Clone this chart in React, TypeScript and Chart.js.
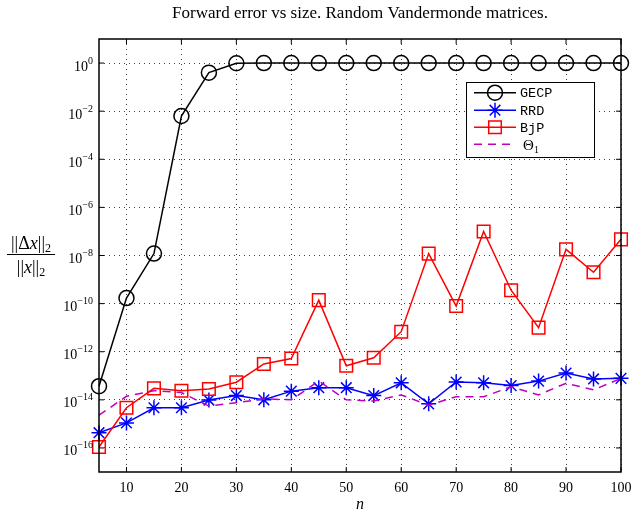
import React, { useEffect, useRef } from 'react';
import { Chart, registerables } from 'chart.js';

Chart.register(...registerables);

// ---------- data ----------
const nValues = [5, 10, 15, 20, 25, 30, 35, 40, 45, 50, 55, 60, 65, 70, 75, 80, 85, 90, 95, 100];
const gecp = [3.7e-14, 1.7e-10, 1.2e-8, 6.3e-3, 0.4, 0.98, 1, 1, 1, 1, 1, 1, 1, 1, 1, 1, 1, 1, 1, 1];
const rrd = [4.3e-16, 1.1e-15, 4.7e-15, 4.7e-15, 9.8e-15, 1.5e-14, 1.0e-14, 2.3e-14, 3.2e-14, 3.2e-14, 1.5e-14, 5.1e-14, 6.8e-15, 5.5e-14, 5.1e-14, 3.9e-14, 6.0e-14, 1.3e-13, 7.4e-14, 7.8e-14];
const bjp = [1.1e-16, 4.7e-15, 3.0e-14, 2.4e-14, 2.8e-14, 5.4e-14, 3.1e-13, 5.2e-13, 1.4e-10, 2.6e-13, 5.6e-13, 6.8e-12, 1.2e-8, 7.9e-11, 1.0e-7, 3.6e-10, 1.0e-11, 1.8e-8, 2.0e-9, 4.7e-8];
const theta1 = [2.3e-15, 1.4e-14, 2.4e-14, 2.0e-14, 5.5e-15, 7.6e-15, 1.1e-14, 1.0e-14, 6.0e-14, 1.0e-14, 8.9e-15, 1.6e-14, 6.0e-15, 1.35e-14, 1.35e-14, 3.5e-14, 1.6e-14, 4.9e-14, 2.6e-14, 7.8e-14];

const seriesNames = ['GECP', 'RRD', 'BjP', 'Θ'];
const xTickValues = [10, 20, 30, 40, 50, 60, 70, 80, 90, 100];
const yTickExponents = [-16, -14, -12, -10, -8, -6, -4, -2, 0];
const titleText = 'Forward error vs size. Random Vandermonde matrices.';
const xAxisLabel = 'n';

// ---------- styles ----------
const SERIF = '"Liberation Serif", "Times New Roman", serif';
const MONO = '"Liberation Mono", "DejaVu Sans Mono", monospace';
const BLACK = '#000000';
const BLUE = '#0000ff';
const RED = '#ff0000';
const MAGENTA = '#bf00bf';

type Part = { t: string; font: string; dy?: number };
function drawParts(ctx: CanvasRenderingContext2D, parts: Part[], x0: number, y: number, align: 'center' | 'right' = 'center') {
  let total = 0;
  parts.forEach((p) => { ctx.font = p.font; total += ctx.measureText(p.t).width; });
  let x = align === 'center' ? x0 - total / 2 : x0 - total;
  ctx.textAlign = 'left';
  ctx.textBaseline = 'alphabetic';
  parts.forEach((p) => {
    ctx.font = p.font;
    ctx.fillText(p.t, x, y + (p.dy || 0));
    x += ctx.measureText(p.t).width;
  });
  return total;
}

function drawMarker(ctx: CanvasRenderingContext2D, kind: string, x: number, y: number) {
  ctx.beginPath();
  if (kind === 'circle') {
    ctx.arc(x, y, 7.5, 0, Math.PI * 2);
  } else if (kind === 'rect') {
    ctx.rect(x - 6.3, y - 6.3, 12.6, 12.6);
  } else if (kind === 'star') {
    const r = 7.5;
    for (let k = 0; k < 4; k++) {
      const a = (k * Math.PI) / 4;
      ctx.moveTo(x - r * Math.cos(a), y - r * Math.sin(a));
      ctx.lineTo(x + r * Math.cos(a), y + r * Math.sin(a));
    }
  }
  ctx.stroke();
}

const decorPlugin = {
  id: 'decor',
  afterDraw(chart: any) {
    const { ctx, chartArea: a, scales } = chart;
    const xs = scales.x;
    const ys = scales.y;
    ctx.save();
    ctx.setLineDash([]);
    // axes box
    ctx.strokeStyle = BLACK;
    ctx.lineWidth = 1.5;
    ctx.strokeRect(a.left, a.top, a.right - a.left, a.bottom - a.top);
    // inward ticks
    ctx.lineWidth = 1;
    ctx.beginPath();
    xs.ticks.forEach((t: any) => {
      const p = xs.getPixelForValue(t.value);
      ctx.moveTo(p, a.bottom); ctx.lineTo(p, a.bottom - 5);
      ctx.moveTo(p, a.top); ctx.lineTo(p, a.top + 5);
    });
    ys.ticks.forEach((t: any) => {
      const p = ys.getPixelForValue(t.value);
      ctx.moveTo(a.left, p); ctx.lineTo(a.left + 5, p);
      ctx.moveTo(a.right, p); ctx.lineTo(a.right - 5, p);
    });
    ctx.stroke();

    ctx.fillStyle = BLACK;
    // y tick labels: 10 with raised exponent
    ys.ticks.forEach((t: any) => {
      const p = ys.getPixelForValue(t.value);
      const e = Math.round(Math.log10(t.value));
      drawParts(ctx, [
        { t: '10', font: `14px ${SERIF}` },
        { t: e < 0 ? '−' + String(-e) : String(e), font: `10px ${SERIF}`, dy: -7 },
      ], a.left - 6, p + 7.5, 'right');
    });

    // title
    ctx.font = `17px ${SERIF}`;
    ctx.textAlign = 'center';
    ctx.textBaseline = 'middle';
    ctx.fillText(titleText, (a.left + a.right) / 2, 14);
    // x label
    ctx.font = `italic 16px ${SERIF}`;
    ctx.fillText(xAxisLabel, (a.left + a.right) / 2, 505);

    // y label as fraction
    const f = `18px ${SERIF}`;
    const fi = `italic 18px ${SERIF}`;
    const fs = `12px ${SERIF}`;
    const cx = 31;
    drawParts(ctx, [
      { t: '||Δ', font: f }, { t: 'x', font: fi }, { t: '||', font: f }, { t: '2', font: fs, dy: 3 },
    ], cx, 249);
    drawParts(ctx, [
      { t: '||', font: f }, { t: 'x', font: fi }, { t: '||', font: f }, { t: '2', font: fs, dy: 3 },
    ], cx, 273);
    ctx.lineWidth = 1;
    ctx.beginPath();
    ctx.moveTo(7, 254.5); ctx.lineTo(55, 254.5);
    ctx.stroke();

    // legend
    const lx = 466, ly = 82, lw = 128, lh = 75;
    ctx.fillStyle = '#ffffff';
    ctx.fillRect(lx, ly, lw, lh);
    ctx.strokeStyle = BLACK;
    ctx.lineWidth = 1;
    ctx.strokeRect(lx + 0.5, ly + 0.5, lw, lh);
    const rows = [92.7, 110.2, 127.3, 144.2];
    const colors = [BLACK, BLUE, RED, MAGENTA];
    const kinds = ['circle', 'star', 'rect', 'none'];
    rows.forEach((ry, i) => {
      ctx.strokeStyle = colors[i];
      ctx.lineWidth = 1.5;
      if (i === 3) ctx.setLineDash([8, 6]); else ctx.setLineDash([]);
      ctx.beginPath();
      ctx.moveTo(474, ry); ctx.lineTo(516, ry);
      ctx.stroke();
      ctx.setLineDash([]);
      if (kinds[i] !== 'none') drawMarker(ctx, kinds[i], 495, ry);
      ctx.fillStyle = BLACK;
      if (i < 3) {
        ctx.font = `13.5px ${MONO}`;
        ctx.textAlign = 'left';
        ctx.textBaseline = 'middle';
        ctx.fillText(seriesNames[i], 520, ry + 1);
      } else {
        drawParts(ctx, [{ t: seriesNames[i], font: `15px ${SERIF}` }, { t: '1', font: `10px ${SERIF}`, dy: 3 }], 531, ry + 6);
      }
    });
    ctx.restore();
  },
};

const toPoints = (arr: number[]) => nValues.map((n, i) => ({ x: n, y: arr[i] }));

export default function App() {
  const ref = useRef<HTMLCanvasElement | null>(null);
  useEffect(() => {
    if (!ref.current) return;
    const chart = new Chart(ref.current, {
      type: 'line',
      data: {
        datasets: [
          {
            label: seriesNames[0], data: toPoints(gecp), borderColor: BLACK, borderWidth: 1.5,
            pointStyle: 'circle', pointRadius: 7.5, pointBorderWidth: 1.5, pointBorderColor: BLACK,
            pointBackgroundColor: 'rgba(0,0,0,0)', fill: false, tension: 0, clip: false as any, order: 4,
          },
          {
            label: seriesNames[1], data: toPoints(rrd), borderColor: BLUE, borderWidth: 1.5,
            pointStyle: 'star', pointRadius: 7.5, pointBorderWidth: 1.5, pointBorderColor: BLUE,
            pointBackgroundColor: 'rgba(0,0,0,0)', fill: false, tension: 0, clip: false as any, order: 3,
          },
          {
            label: seriesNames[2], data: toPoints(bjp), borderColor: RED, borderWidth: 1.5,
            pointStyle: 'rect', pointRadius: 8.9, pointBorderWidth: 1.5, pointBorderColor: RED,
            pointBackgroundColor: 'rgba(0,0,0,0)', fill: false, tension: 0, clip: false as any, order: 2,
          },
          {
            label: seriesNames[3] + '₁', data: toPoints(theta1), borderColor: MAGENTA, borderWidth: 1.5,
            borderDash: [8, 6], pointRadius: 0, fill: false, tension: 0, clip: false as any, order: 1,
          },
        ],
      },
      options: {
        responsive: false,
        animation: false,
        devicePixelRatio: 1,
        layout: { padding: { left: 0, right: 13, top: 39, bottom: 0 } },
        plugins: { legend: { display: false }, title: { display: false }, tooltip: { enabled: false } },
        scales: {
          x: {
            type: 'linear',
            min: 5,
            max: 100,
            afterBuildTicks: (s: any) => { s.ticks = xTickValues.map((v) => ({ value: v })); },
            afterFit: (s: any) => { s.height = 41; s.paddingRight = 0; s.paddingLeft = 0; },
            grid: { color: 'rgba(0,0,0,0.75)', lineWidth: 1, drawTicks: false },
            border: { display: false, dash: [1, 4] },
            ticks: {
              color: BLACK, font: { family: SERIF, size: 14 }, padding: 8, maxRotation: 0, autoSkip: false,
              callback: (v: any) => String(v),
            },
          },
          y: {
            type: 'logarithmic',
            min: 1e-17,
            max: 10,
            afterBuildTicks: (s: any) => { s.ticks = yTickExponents.map((e) => ({ value: Math.pow(10, e) })); },
            afterFit: (s: any) => { s.width = 99; s.paddingTop = 0; s.paddingBottom = 0; },
            grid: { color: 'rgba(0,0,0,0.75)', lineWidth: 1, drawTicks: false },
            border: { display: false, dash: [1, 4] },
            ticks: { display: false },
          },
        },
      },
      plugins: [decorPlugin],
    } as any);
    return () => chart.destroy();
  }, []);
  return (
    <div style={{ position: 'absolute', left: 0, top: 0, width: 634, height: 513, background: '#fff' }}>
      <canvas ref={ref} width={634} height={513} style={{ display: 'block' }} />
    </div>
  );
}
